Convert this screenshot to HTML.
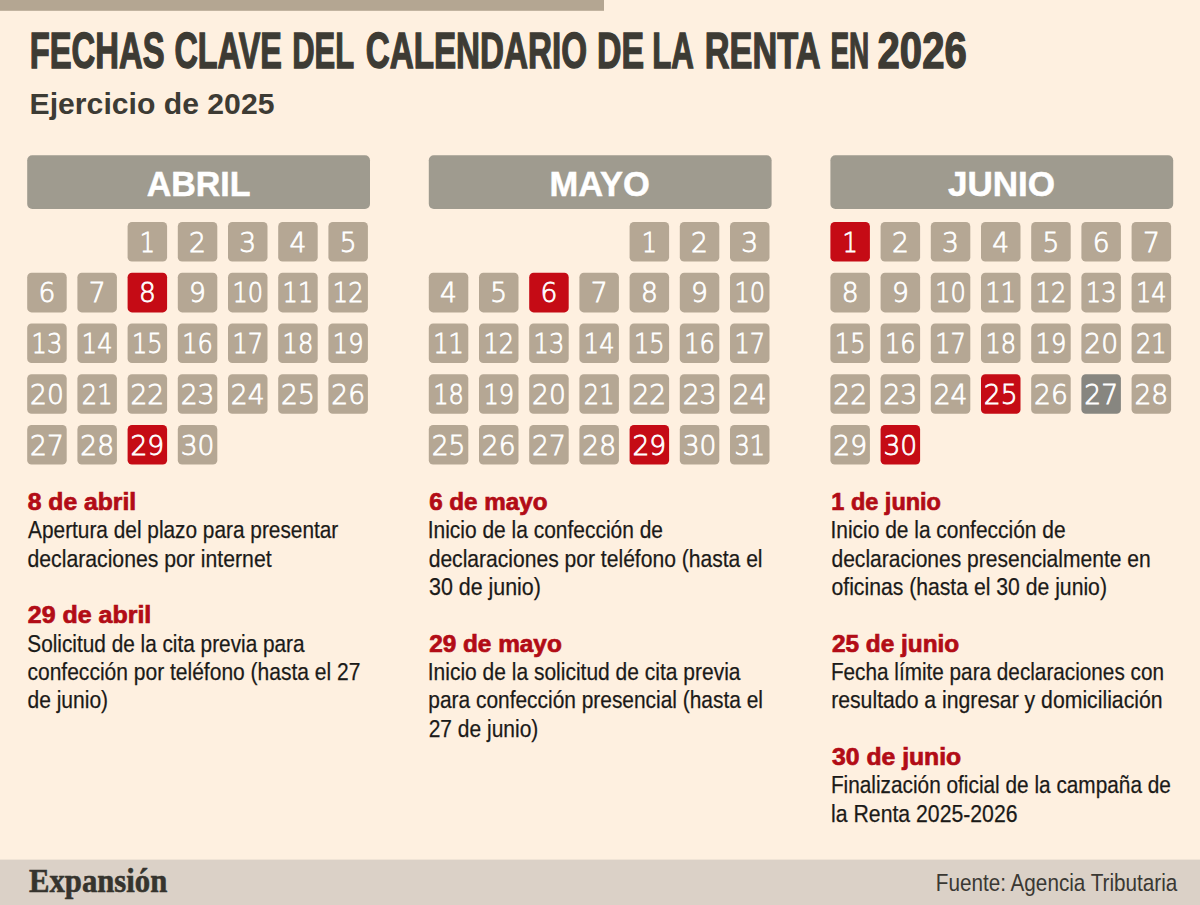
<!DOCTYPE html><html><head><meta charset="utf-8"><title>Fechas clave del calendario de la Renta en 2026</title>
<style>html,body{margin:0;padding:0;background:#fef0e0;}body{width:1200px;height:905px;overflow:hidden;}svg{display:block;}text{font-family:"Liberation Sans",Arial,sans-serif;}.b{font-size:24.4px;fill:#1b1a18;stroke:#1b1a18;stroke-width:0.25px;}.h{font-weight:bold;font-size:23.2px;fill:#b20c16;stroke:#b20c16;stroke-width:0.7px;}.d{font-family:"DejaVu Sans",sans-serif;font-weight:200;font-size:26.8px;fill:#fff;stroke:#fff;stroke-width:0.8px;}.m{font-weight:bold;font-size:35.6px;fill:#fff;stroke:#fff;stroke-width:0.5px;}</style></head><body>
<svg width="1200" height="905" viewBox="0 0 1200 905">
<rect x="0" y="0" width="1200" height="905" fill="#fef0e0"/>
<rect x="0" y="0" width="604" height="10.8" fill="#b4a692"/>
<g font-weight="bold" font-size="49.3" fill="#3d3b34" stroke="#3d3b34" stroke-width="1.4">
<text  x="29.68" y="67.80" textLength="134.89" lengthAdjust="spacingAndGlyphs">FECHAS</text>
<text  x="174.41" y="67.80" textLength="107.47" lengthAdjust="spacingAndGlyphs">CLAVE</text>
<text  x="292.23" y="67.80" textLength="61.88" lengthAdjust="spacingAndGlyphs">DEL</text>
<text  x="365.75" y="67.80" textLength="221.31" lengthAdjust="spacingAndGlyphs">CALENDARIO</text>
<text  x="597.11" y="67.80" textLength="47.06" lengthAdjust="spacingAndGlyphs">DE</text>
<text  x="652.19" y="67.80" textLength="41.70" lengthAdjust="spacingAndGlyphs">LA</text>
<text  x="704.77" y="67.80" textLength="115.70" lengthAdjust="spacingAndGlyphs">RENTA</text>
<text  x="830.42" y="67.80" textLength="38.89" lengthAdjust="spacingAndGlyphs">EN</text>
<text  x="877.57" y="67.80" textLength="89.15" lengthAdjust="spacingAndGlyphs">2026</text>
</g>
<text font-weight="bold" font-size="29.5" fill="#3d3b34" x="29.58" y="114.00" textLength="244.87" lengthAdjust="spacingAndGlyphs">Ejercicio de 2025</text>
<rect x="27.2" y="155.3" width="342.8" height="53.7" rx="5" fill="#9f9b8f"/>
<text class="m" x="146.70" y="196.00" textLength="103.78" lengthAdjust="spacingAndGlyphs">ABRIL</text>
<rect x="127.6" y="222.0" width="39.5" height="39.6" rx="4.4" fill="#b5a794"/>
<text class="d" x="147.35" y="251.60" text-anchor="middle" transform="matrix(0.900 0 0 1 14.735 0)">1</text>
<rect x="177.8" y="222.0" width="39.5" height="39.6" rx="4.4" fill="#b5a794"/>
<text class="d" x="197.55" y="251.60" text-anchor="middle" transform="matrix(0.990 0 0 1 1.976 0)">2</text>
<rect x="228.0" y="222.0" width="39.5" height="39.6" rx="4.4" fill="#b5a794"/>
<text class="d" x="247.75" y="251.60" text-anchor="middle" transform="matrix(0.990 0 0 1 2.478 0)">3</text>
<rect x="278.2" y="222.0" width="39.5" height="39.6" rx="4.4" fill="#b5a794"/>
<text class="d" x="297.95" y="251.60" text-anchor="middle" transform="matrix(0.990 0 0 1 2.980 0)">4</text>
<rect x="328.4" y="222.0" width="39.5" height="39.6" rx="4.4" fill="#b5a794"/>
<text class="d" x="348.15" y="251.60" text-anchor="middle" transform="matrix(0.990 0 0 1 3.482 0)">5</text>
<rect x="27.2" y="272.8" width="39.5" height="39.6" rx="4.4" fill="#b5a794"/>
<text class="d" x="46.95" y="302.35" text-anchor="middle" transform="matrix(0.990 0 0 1 0.470 0)">6</text>
<rect x="77.4" y="272.8" width="39.5" height="39.6" rx="4.4" fill="#b5a794"/>
<text class="d" x="97.15" y="302.35" text-anchor="middle" transform="matrix(0.990 0 0 1 0.972 0)">7</text>
<rect x="127.6" y="272.8" width="39.5" height="39.6" rx="4.4" fill="#c50b15"/>
<text class="d" x="147.35" y="302.35" text-anchor="middle" transform="matrix(0.990 0 0 1 1.474 0)">8</text>
<rect x="177.8" y="272.8" width="39.5" height="39.6" rx="4.4" fill="#b5a794"/>
<text class="d" x="197.55" y="302.35" text-anchor="middle" transform="matrix(0.990 0 0 1 1.976 0)">9</text>
<rect x="228.0" y="272.8" width="39.5" height="39.6" rx="4.4" fill="#b5a794"/>
<text class="d" x="247.75" y="302.35" text-anchor="middle" transform="matrix(0.900 0 0 1 24.775 0)">10</text>
<rect x="278.2" y="272.8" width="39.5" height="39.6" rx="4.4" fill="#b5a794"/>
<text class="d" x="297.95" y="302.35" text-anchor="middle" transform="matrix(0.900 0 0 1 29.795 0)">11</text>
<rect x="328.4" y="272.8" width="39.5" height="39.6" rx="4.4" fill="#b5a794"/>
<text class="d" x="348.15" y="302.35" text-anchor="middle" transform="matrix(0.900 0 0 1 34.815 0)">12</text>
<rect x="27.2" y="323.5" width="39.5" height="39.6" rx="4.4" fill="#b5a794"/>
<text class="d" x="46.95" y="353.10" text-anchor="middle" transform="matrix(0.900 0 0 1 4.695 0)">13</text>
<rect x="77.4" y="323.5" width="39.5" height="39.6" rx="4.4" fill="#b5a794"/>
<text class="d" x="97.15" y="353.10" text-anchor="middle" transform="matrix(0.900 0 0 1 9.715 0)">14</text>
<rect x="127.6" y="323.5" width="39.5" height="39.6" rx="4.4" fill="#b5a794"/>
<text class="d" x="147.35" y="353.10" text-anchor="middle" transform="matrix(0.900 0 0 1 14.735 0)">15</text>
<rect x="177.8" y="323.5" width="39.5" height="39.6" rx="4.4" fill="#b5a794"/>
<text class="d" x="197.55" y="353.10" text-anchor="middle" transform="matrix(0.900 0 0 1 19.755 0)">16</text>
<rect x="228.0" y="323.5" width="39.5" height="39.6" rx="4.4" fill="#b5a794"/>
<text class="d" x="247.75" y="353.10" text-anchor="middle" transform="matrix(0.900 0 0 1 24.775 0)">17</text>
<rect x="278.2" y="323.5" width="39.5" height="39.6" rx="4.4" fill="#b5a794"/>
<text class="d" x="297.95" y="353.10" text-anchor="middle" transform="matrix(0.900 0 0 1 29.795 0)">18</text>
<rect x="328.4" y="323.5" width="39.5" height="39.6" rx="4.4" fill="#b5a794"/>
<text class="d" x="348.15" y="353.10" text-anchor="middle" transform="matrix(0.900 0 0 1 34.815 0)">19</text>
<rect x="27.2" y="374.2" width="39.5" height="39.6" rx="4.4" fill="#b5a794"/>
<text class="d" x="46.95" y="403.85" text-anchor="middle" transform="matrix(0.990 0 0 1 0.470 0)">20</text>
<rect x="77.4" y="374.2" width="39.5" height="39.6" rx="4.4" fill="#b5a794"/>
<text class="d" x="97.15" y="403.85" text-anchor="middle" transform="matrix(0.900 0 0 1 9.715 0)">21</text>
<rect x="127.6" y="374.2" width="39.5" height="39.6" rx="4.4" fill="#b5a794"/>
<text class="d" x="147.35" y="403.85" text-anchor="middle" transform="matrix(0.990 0 0 1 1.474 0)">22</text>
<rect x="177.8" y="374.2" width="39.5" height="39.6" rx="4.4" fill="#b5a794"/>
<text class="d" x="197.55" y="403.85" text-anchor="middle" transform="matrix(0.990 0 0 1 1.976 0)">23</text>
<rect x="228.0" y="374.2" width="39.5" height="39.6" rx="4.4" fill="#b5a794"/>
<text class="d" x="247.75" y="403.85" text-anchor="middle" transform="matrix(0.990 0 0 1 2.478 0)">24</text>
<rect x="278.2" y="374.2" width="39.5" height="39.6" rx="4.4" fill="#b5a794"/>
<text class="d" x="297.95" y="403.85" text-anchor="middle" transform="matrix(0.990 0 0 1 2.980 0)">25</text>
<rect x="328.4" y="374.2" width="39.5" height="39.6" rx="4.4" fill="#b5a794"/>
<text class="d" x="348.15" y="403.85" text-anchor="middle" transform="matrix(0.990 0 0 1 3.482 0)">26</text>
<rect x="27.2" y="425.0" width="39.5" height="39.6" rx="4.4" fill="#b5a794"/>
<text class="d" x="46.95" y="454.60" text-anchor="middle" transform="matrix(0.990 0 0 1 0.470 0)">27</text>
<rect x="77.4" y="425.0" width="39.5" height="39.6" rx="4.4" fill="#b5a794"/>
<text class="d" x="97.15" y="454.60" text-anchor="middle" transform="matrix(0.990 0 0 1 0.972 0)">28</text>
<rect x="127.6" y="425.0" width="39.5" height="39.6" rx="4.4" fill="#c50b15"/>
<text class="d" x="147.35" y="454.60" text-anchor="middle" transform="matrix(0.990 0 0 1 1.474 0)">29</text>
<rect x="177.8" y="425.0" width="39.5" height="39.6" rx="4.4" fill="#b5a794"/>
<text class="d" x="197.55" y="454.60" text-anchor="middle" transform="matrix(0.990 0 0 1 1.976 0)">30</text>
<rect x="428.8" y="155.3" width="342.8" height="53.7" rx="5" fill="#9f9b8f"/>
<text class="m" x="549.57" y="196.00" textLength="100.24" lengthAdjust="spacingAndGlyphs">MAYO</text>
<rect x="629.6" y="222.0" width="39.5" height="39.6" rx="4.4" fill="#b5a794"/>
<text class="d" x="649.35" y="251.60" text-anchor="middle" transform="matrix(0.900 0 0 1 64.935 0)">1</text>
<rect x="679.8" y="222.0" width="39.5" height="39.6" rx="4.4" fill="#b5a794"/>
<text class="d" x="699.55" y="251.60" text-anchor="middle" transform="matrix(0.990 0 0 1 6.996 0)">2</text>
<rect x="730.0" y="222.0" width="39.5" height="39.6" rx="4.4" fill="#b5a794"/>
<text class="d" x="749.75" y="251.60" text-anchor="middle" transform="matrix(0.990 0 0 1 7.498 0)">3</text>
<rect x="428.8" y="272.8" width="39.5" height="39.6" rx="4.4" fill="#b5a794"/>
<text class="d" x="448.55" y="302.35" text-anchor="middle" transform="matrix(0.990 0 0 1 4.486 0)">4</text>
<rect x="479.0" y="272.8" width="39.5" height="39.6" rx="4.4" fill="#b5a794"/>
<text class="d" x="498.75" y="302.35" text-anchor="middle" transform="matrix(0.990 0 0 1 4.988 0)">5</text>
<rect x="529.2" y="272.8" width="39.5" height="39.6" rx="4.4" fill="#c50b15"/>
<text class="d" x="548.95" y="302.35" text-anchor="middle" transform="matrix(0.990 0 0 1 5.490 0)">6</text>
<rect x="579.4" y="272.8" width="39.5" height="39.6" rx="4.4" fill="#b5a794"/>
<text class="d" x="599.15" y="302.35" text-anchor="middle" transform="matrix(0.990 0 0 1 5.992 0)">7</text>
<rect x="629.6" y="272.8" width="39.5" height="39.6" rx="4.4" fill="#b5a794"/>
<text class="d" x="649.35" y="302.35" text-anchor="middle" transform="matrix(0.990 0 0 1 6.494 0)">8</text>
<rect x="679.8" y="272.8" width="39.5" height="39.6" rx="4.4" fill="#b5a794"/>
<text class="d" x="699.55" y="302.35" text-anchor="middle" transform="matrix(0.990 0 0 1 6.996 0)">9</text>
<rect x="730.0" y="272.8" width="39.5" height="39.6" rx="4.4" fill="#b5a794"/>
<text class="d" x="749.75" y="302.35" text-anchor="middle" transform="matrix(0.900 0 0 1 74.975 0)">10</text>
<rect x="428.8" y="323.5" width="39.5" height="39.6" rx="4.4" fill="#b5a794"/>
<text class="d" x="448.55" y="353.10" text-anchor="middle" transform="matrix(0.900 0 0 1 44.855 0)">11</text>
<rect x="479.0" y="323.5" width="39.5" height="39.6" rx="4.4" fill="#b5a794"/>
<text class="d" x="498.75" y="353.10" text-anchor="middle" transform="matrix(0.900 0 0 1 49.875 0)">12</text>
<rect x="529.2" y="323.5" width="39.5" height="39.6" rx="4.4" fill="#b5a794"/>
<text class="d" x="548.95" y="353.10" text-anchor="middle" transform="matrix(0.900 0 0 1 54.895 0)">13</text>
<rect x="579.4" y="323.5" width="39.5" height="39.6" rx="4.4" fill="#b5a794"/>
<text class="d" x="599.15" y="353.10" text-anchor="middle" transform="matrix(0.900 0 0 1 59.915 0)">14</text>
<rect x="629.6" y="323.5" width="39.5" height="39.6" rx="4.4" fill="#b5a794"/>
<text class="d" x="649.35" y="353.10" text-anchor="middle" transform="matrix(0.900 0 0 1 64.935 0)">15</text>
<rect x="679.8" y="323.5" width="39.5" height="39.6" rx="4.4" fill="#b5a794"/>
<text class="d" x="699.55" y="353.10" text-anchor="middle" transform="matrix(0.900 0 0 1 69.955 0)">16</text>
<rect x="730.0" y="323.5" width="39.5" height="39.6" rx="4.4" fill="#b5a794"/>
<text class="d" x="749.75" y="353.10" text-anchor="middle" transform="matrix(0.900 0 0 1 74.975 0)">17</text>
<rect x="428.8" y="374.2" width="39.5" height="39.6" rx="4.4" fill="#b5a794"/>
<text class="d" x="448.55" y="403.85" text-anchor="middle" transform="matrix(0.900 0 0 1 44.855 0)">18</text>
<rect x="479.0" y="374.2" width="39.5" height="39.6" rx="4.4" fill="#b5a794"/>
<text class="d" x="498.75" y="403.85" text-anchor="middle" transform="matrix(0.900 0 0 1 49.875 0)">19</text>
<rect x="529.2" y="374.2" width="39.5" height="39.6" rx="4.4" fill="#b5a794"/>
<text class="d" x="548.95" y="403.85" text-anchor="middle" transform="matrix(0.990 0 0 1 5.490 0)">20</text>
<rect x="579.4" y="374.2" width="39.5" height="39.6" rx="4.4" fill="#b5a794"/>
<text class="d" x="599.15" y="403.85" text-anchor="middle" transform="matrix(0.900 0 0 1 59.915 0)">21</text>
<rect x="629.6" y="374.2" width="39.5" height="39.6" rx="4.4" fill="#b5a794"/>
<text class="d" x="649.35" y="403.85" text-anchor="middle" transform="matrix(0.990 0 0 1 6.494 0)">22</text>
<rect x="679.8" y="374.2" width="39.5" height="39.6" rx="4.4" fill="#b5a794"/>
<text class="d" x="699.55" y="403.85" text-anchor="middle" transform="matrix(0.990 0 0 1 6.996 0)">23</text>
<rect x="730.0" y="374.2" width="39.5" height="39.6" rx="4.4" fill="#b5a794"/>
<text class="d" x="749.75" y="403.85" text-anchor="middle" transform="matrix(0.990 0 0 1 7.498 0)">24</text>
<rect x="428.8" y="425.0" width="39.5" height="39.6" rx="4.4" fill="#b5a794"/>
<text class="d" x="448.55" y="454.60" text-anchor="middle" transform="matrix(0.990 0 0 1 4.486 0)">25</text>
<rect x="479.0" y="425.0" width="39.5" height="39.6" rx="4.4" fill="#b5a794"/>
<text class="d" x="498.75" y="454.60" text-anchor="middle" transform="matrix(0.990 0 0 1 4.988 0)">26</text>
<rect x="529.2" y="425.0" width="39.5" height="39.6" rx="4.4" fill="#b5a794"/>
<text class="d" x="548.95" y="454.60" text-anchor="middle" transform="matrix(0.990 0 0 1 5.490 0)">27</text>
<rect x="579.4" y="425.0" width="39.5" height="39.6" rx="4.4" fill="#b5a794"/>
<text class="d" x="599.15" y="454.60" text-anchor="middle" transform="matrix(0.990 0 0 1 5.992 0)">28</text>
<rect x="629.6" y="425.0" width="39.5" height="39.6" rx="4.4" fill="#c50b15"/>
<text class="d" x="649.35" y="454.60" text-anchor="middle" transform="matrix(0.990 0 0 1 6.494 0)">29</text>
<rect x="679.8" y="425.0" width="39.5" height="39.6" rx="4.4" fill="#b5a794"/>
<text class="d" x="699.55" y="454.60" text-anchor="middle" transform="matrix(0.990 0 0 1 6.996 0)">30</text>
<rect x="730.0" y="425.0" width="39.5" height="39.6" rx="4.4" fill="#b5a794"/>
<text class="d" x="749.75" y="454.60" text-anchor="middle" transform="matrix(0.900 0 0 1 74.975 0)">31</text>
<rect x="830.4" y="155.3" width="342.8" height="53.7" rx="5" fill="#9f9b8f"/>
<text class="m" x="947.99" y="196.00" textLength="107.11" lengthAdjust="spacingAndGlyphs">JUNIO</text>
<rect x="830.4" y="222.0" width="39.5" height="39.6" rx="4.4" fill="#c50b15"/>
<text class="d" x="850.15" y="251.60" text-anchor="middle" transform="matrix(0.900 0 0 1 85.015 0)">1</text>
<rect x="880.6" y="222.0" width="39.5" height="39.6" rx="4.4" fill="#b5a794"/>
<text class="d" x="900.35" y="251.60" text-anchor="middle" transform="matrix(0.990 0 0 1 9.004 0)">2</text>
<rect x="930.8" y="222.0" width="39.5" height="39.6" rx="4.4" fill="#b5a794"/>
<text class="d" x="950.55" y="251.60" text-anchor="middle" transform="matrix(0.990 0 0 1 9.506 0)">3</text>
<rect x="981.0" y="222.0" width="39.5" height="39.6" rx="4.4" fill="#b5a794"/>
<text class="d" x="1000.75" y="251.60" text-anchor="middle" transform="matrix(0.990 0 0 1 10.008 0)">4</text>
<rect x="1031.2" y="222.0" width="39.5" height="39.6" rx="4.4" fill="#b5a794"/>
<text class="d" x="1050.95" y="251.60" text-anchor="middle" transform="matrix(0.990 0 0 1 10.510 0)">5</text>
<rect x="1081.4" y="222.0" width="39.5" height="39.6" rx="4.4" fill="#b5a794"/>
<text class="d" x="1101.15" y="251.60" text-anchor="middle" transform="matrix(0.990 0 0 1 11.012 0)">6</text>
<rect x="1131.6" y="222.0" width="39.5" height="39.6" rx="4.4" fill="#b5a794"/>
<text class="d" x="1151.35" y="251.60" text-anchor="middle" transform="matrix(0.990 0 0 1 11.514 0)">7</text>
<rect x="830.4" y="272.8" width="39.5" height="39.6" rx="4.4" fill="#b5a794"/>
<text class="d" x="850.15" y="302.35" text-anchor="middle" transform="matrix(0.990 0 0 1 8.502 0)">8</text>
<rect x="880.6" y="272.8" width="39.5" height="39.6" rx="4.4" fill="#b5a794"/>
<text class="d" x="900.35" y="302.35" text-anchor="middle" transform="matrix(0.990 0 0 1 9.004 0)">9</text>
<rect x="930.8" y="272.8" width="39.5" height="39.6" rx="4.4" fill="#b5a794"/>
<text class="d" x="950.55" y="302.35" text-anchor="middle" transform="matrix(0.900 0 0 1 95.055 0)">10</text>
<rect x="981.0" y="272.8" width="39.5" height="39.6" rx="4.4" fill="#b5a794"/>
<text class="d" x="1000.75" y="302.35" text-anchor="middle" transform="matrix(0.900 0 0 1 100.075 0)">11</text>
<rect x="1031.2" y="272.8" width="39.5" height="39.6" rx="4.4" fill="#b5a794"/>
<text class="d" x="1050.95" y="302.35" text-anchor="middle" transform="matrix(0.900 0 0 1 105.095 0)">12</text>
<rect x="1081.4" y="272.8" width="39.5" height="39.6" rx="4.4" fill="#b5a794"/>
<text class="d" x="1101.15" y="302.35" text-anchor="middle" transform="matrix(0.900 0 0 1 110.115 0)">13</text>
<rect x="1131.6" y="272.8" width="39.5" height="39.6" rx="4.4" fill="#b5a794"/>
<text class="d" x="1151.35" y="302.35" text-anchor="middle" transform="matrix(0.900 0 0 1 115.135 0)">14</text>
<rect x="830.4" y="323.5" width="39.5" height="39.6" rx="4.4" fill="#b5a794"/>
<text class="d" x="850.15" y="353.10" text-anchor="middle" transform="matrix(0.900 0 0 1 85.015 0)">15</text>
<rect x="880.6" y="323.5" width="39.5" height="39.6" rx="4.4" fill="#b5a794"/>
<text class="d" x="900.35" y="353.10" text-anchor="middle" transform="matrix(0.900 0 0 1 90.035 0)">16</text>
<rect x="930.8" y="323.5" width="39.5" height="39.6" rx="4.4" fill="#b5a794"/>
<text class="d" x="950.55" y="353.10" text-anchor="middle" transform="matrix(0.900 0 0 1 95.055 0)">17</text>
<rect x="981.0" y="323.5" width="39.5" height="39.6" rx="4.4" fill="#b5a794"/>
<text class="d" x="1000.75" y="353.10" text-anchor="middle" transform="matrix(0.900 0 0 1 100.075 0)">18</text>
<rect x="1031.2" y="323.5" width="39.5" height="39.6" rx="4.4" fill="#b5a794"/>
<text class="d" x="1050.95" y="353.10" text-anchor="middle" transform="matrix(0.900 0 0 1 105.095 0)">19</text>
<rect x="1081.4" y="323.5" width="39.5" height="39.6" rx="4.4" fill="#b5a794"/>
<text class="d" x="1101.15" y="353.10" text-anchor="middle" transform="matrix(0.990 0 0 1 11.012 0)">20</text>
<rect x="1131.6" y="323.5" width="39.5" height="39.6" rx="4.4" fill="#b5a794"/>
<text class="d" x="1151.35" y="353.10" text-anchor="middle" transform="matrix(0.900 0 0 1 115.135 0)">21</text>
<rect x="830.4" y="374.2" width="39.5" height="39.6" rx="4.4" fill="#b5a794"/>
<text class="d" x="850.15" y="403.85" text-anchor="middle" transform="matrix(0.990 0 0 1 8.502 0)">22</text>
<rect x="880.6" y="374.2" width="39.5" height="39.6" rx="4.4" fill="#b5a794"/>
<text class="d" x="900.35" y="403.85" text-anchor="middle" transform="matrix(0.990 0 0 1 9.004 0)">23</text>
<rect x="930.8" y="374.2" width="39.5" height="39.6" rx="4.4" fill="#b5a794"/>
<text class="d" x="950.55" y="403.85" text-anchor="middle" transform="matrix(0.990 0 0 1 9.506 0)">24</text>
<rect x="981.0" y="374.2" width="39.5" height="39.6" rx="4.4" fill="#c50b15"/>
<text class="d" x="1000.75" y="403.85" text-anchor="middle" transform="matrix(0.990 0 0 1 10.008 0)">25</text>
<rect x="1031.2" y="374.2" width="39.5" height="39.6" rx="4.4" fill="#b5a794"/>
<text class="d" x="1050.95" y="403.85" text-anchor="middle" transform="matrix(0.990 0 0 1 10.510 0)">26</text>
<rect x="1081.4" y="374.2" width="39.5" height="39.6" rx="4.4" fill="#878680"/>
<text class="d" x="1101.15" y="403.85" text-anchor="middle" transform="matrix(0.990 0 0 1 11.012 0)">27</text>
<rect x="1131.6" y="374.2" width="39.5" height="39.6" rx="4.4" fill="#b5a794"/>
<text class="d" x="1151.35" y="403.85" text-anchor="middle" transform="matrix(0.990 0 0 1 11.514 0)">28</text>
<rect x="830.4" y="425.0" width="39.5" height="39.6" rx="4.4" fill="#b5a794"/>
<text class="d" x="850.15" y="454.60" text-anchor="middle" transform="matrix(0.990 0 0 1 8.502 0)">29</text>
<rect x="880.6" y="425.0" width="39.5" height="39.6" rx="4.4" fill="#c50b15"/>
<text class="d" x="900.35" y="454.60" text-anchor="middle" transform="matrix(0.990 0 0 1 9.004 0)">30</text>
<text class="h" x="27.80" y="509.90" textLength="108.32" lengthAdjust="spacingAndGlyphs">8 de abril</text>
<text class="b" x="28.10" y="538.25" textLength="310.17" lengthAdjust="spacingAndGlyphs">Apertura del plazo para presentar</text>
<text class="b" x="27.48" y="566.60" textLength="244.11" lengthAdjust="spacingAndGlyphs">declaraciones por internet</text>
<text class="h" x="27.80" y="623.30" textLength="123.48" lengthAdjust="spacingAndGlyphs">29 de abril</text>
<text class="b" x="27.30" y="651.65" textLength="277.29" lengthAdjust="spacingAndGlyphs">Solicitud de la cita previa para</text>
<text class="b" x="27.48" y="680.00" textLength="332.94" lengthAdjust="spacingAndGlyphs">confección por teléfono (hasta el 27</text>
<text class="b" x="27.48" y="708.35" textLength="80.64" lengthAdjust="spacingAndGlyphs">de junio)</text>
<text class="h" x="429.16" y="509.90" textLength="118.26" lengthAdjust="spacingAndGlyphs">6 de mayo</text>
<text class="b" x="427.71" y="538.25" textLength="235.26" lengthAdjust="spacingAndGlyphs">Inicio de la confección de</text>
<text class="b" x="428.68" y="566.60" textLength="333.88" lengthAdjust="spacingAndGlyphs">declaraciones por teléfono (hasta el</text>
<text class="b" x="428.98" y="594.95" textLength="111.95" lengthAdjust="spacingAndGlyphs">30 de junio)</text>
<text class="h" x="429.16" y="651.65" textLength="132.62" lengthAdjust="spacingAndGlyphs">29 de mayo</text>
<text class="b" x="427.71" y="680.00" textLength="312.79" lengthAdjust="spacingAndGlyphs">Inicio de la solicitud de cita previa</text>
<text class="b" x="428.32" y="708.35" textLength="334.64" lengthAdjust="spacingAndGlyphs">para confección presencial (hasta el</text>
<text class="b" x="428.65" y="736.70" textLength="109.64" lengthAdjust="spacingAndGlyphs">27 de junio)</text>
<text class="h" x="831.39" y="509.90" textLength="109.56" lengthAdjust="spacingAndGlyphs">1 de junio</text>
<text class="b" x="830.49" y="538.25" textLength="235.07" lengthAdjust="spacingAndGlyphs">Inicio de la confección de</text>
<text class="b" x="831.47" y="566.60" textLength="319.21" lengthAdjust="spacingAndGlyphs">declaraciones presencialmente en</text>
<text class="b" x="831.47" y="594.95" textLength="275.49" lengthAdjust="spacingAndGlyphs">oficinas (hasta el 30 de junio)</text>
<text class="h" x="831.90" y="651.65" textLength="127.30" lengthAdjust="spacingAndGlyphs">25 de junio</text>
<text class="b" x="830.90" y="680.00" textLength="333.07" lengthAdjust="spacingAndGlyphs">Fecha límite para declaraciones con</text>
<text class="b" x="831.14" y="708.35" textLength="331.47" lengthAdjust="spacingAndGlyphs">resultado a ingresar y domiciliación</text>
<text class="h" x="832.14" y="765.05" textLength="129.02" lengthAdjust="spacingAndGlyphs">30 de junio</text>
<text class="b" x="830.90" y="793.40" textLength="340.01" lengthAdjust="spacingAndGlyphs">Finalización oficial de la campaña de</text>
<text class="b" x="831.12" y="821.75" textLength="186.42" lengthAdjust="spacingAndGlyphs">la Renta 2025-2026</text>
<rect x="0" y="859.6" width="1200" height="45.4" fill="#dbd1c7"/>
<text style="font-family:Liberation Serif,serif" font-weight="bold" font-size="34.2" fill="#36342e" stroke="#36342e" stroke-width="0.6" x="28.96" y="891.60" textLength="138.29" lengthAdjust="spacingAndGlyphs">Expansión</text>
<text font-size="24.2" fill="#3a3833" x="935.81" y="890.50" textLength="241.53" lengthAdjust="spacingAndGlyphs">Fuente: Agencia Tributaria</text>
</svg></body></html>
